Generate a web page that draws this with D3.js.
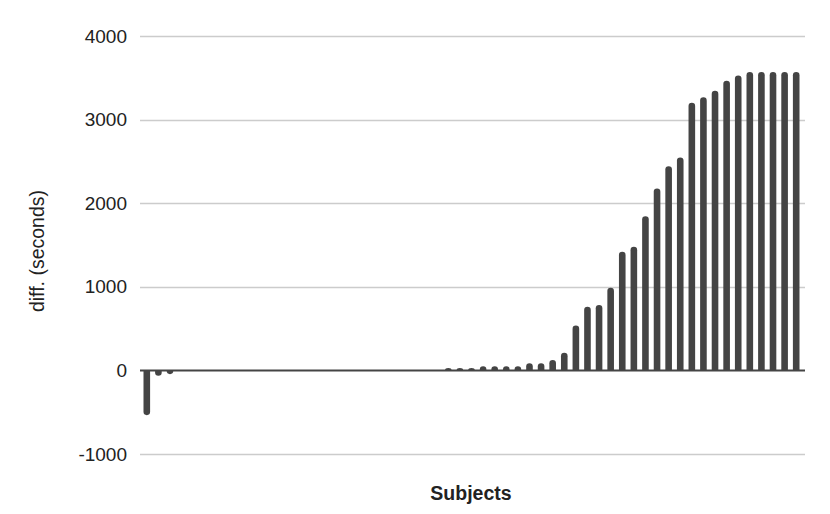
<!DOCTYPE html>
<html><head><meta charset="utf-8">
<script src="https://cdn.jsdelivr.net/npm/d3@7"></script>
<style>body{margin:0;background:#fff;}svg{display:block;font-family:"Liberation Sans",Arial,sans-serif;}</style>
</head><body>
<svg id="c" width="830" height="514"></svg>
<script>
const subjects = d3.range(1, 58).map(i => "S" + i);
const diffSeconds = [
  -535, -65, -45, 0, 0, 0, 0, 0, 0, 0,
  0, 0, 0, 0, 0, 0, 0, 0, 0, 0,
  0, 0, 3, 3, 3, 3, 28, 28, 28, 50,
  50, 50, 50, 85, 85, 125, 210, 536, 762, 782,
  988, 1418, 1478, 1844, 2176, 2443, 2547, 3201, 3266, 3345,
  3465, 3529, 3569, 3569, 3569, 3569, 3569
];
const yTicks = [-1000, 0, 1000, 2000, 3000, 4000];
const yTitle = "diff. (seconds)";
const xTitle = "Subjects";

const svg = d3.select("#c");
const plotL = 140, plotR = 805, plotT = 36, plotB = 454;
const x = d3.scaleBand().domain(subjects).range([141, 802]).paddingInner(0.43).paddingOuter(0.215);
const y = d3.scaleLinear().domain([-1000, 4000]).range([plotB, plotT]);

// gridlines
svg.append("g").selectAll("line").data(yTicks.filter(t => t !== 0)).join("line")
  .attr("x1", plotL).attr("x2", plotR)
  .attr("y1", d => Math.round(y(d)) + 0.5).attr("y2", d => Math.round(y(d)) + 0.5)
  .attr("stroke", "#cccccc").attr("stroke-width", 1.3);

// tick labels
svg.append("g").selectAll("text").data(yTicks).join("text")
  .attr("x", 127).attr("y", d => y(d)).attr("dy", "0.35em")
  .attr("text-anchor", "end").attr("font-size", 19).attr("fill", "#222")
  .text(d => d);

// bars with rounded outer end
const bw = x.bandwidth();
function barPath(d, i) {
  const cx = x(subjects[i]) + bw / 2;
  const y0 = y(0), y1 = y(d);
  const h = Math.abs(y0 - y1);
  if (h < 0.3) return "";
  const r = Math.min(bw / 2, h);
  const xl = cx - bw / 2, xr = cx + bw / 2;
  if (d > 0) {
    return `M${xl},${y0} L${xl},${y1 + r} Q${xl},${y1} ${cx},${y1} Q${xr},${y1} ${xr},${y1 + r} L${xr},${y0} Z`;
  } else {
    return `M${xl},${y0} L${xl},${y1 - r} Q${xl},${y1} ${cx},${y1} Q${xr},${y1} ${xr},${y1 - r} L${xr},${y0} Z`;
  }
}
svg.append("g").selectAll("path").data(diffSeconds).join("path")
  .attr("d", barPath).attr("fill", "#444444");

// baseline
svg.append("line").attr("x1", plotL).attr("x2", plotR)
  .attr("y1", y(0)).attr("y2", y(0))
  .attr("stroke", "#444444").attr("stroke-width", 2);

// axis titles
svg.append("text").attr("transform", `translate(44,${(plotT + plotB) / 2 + 6}) rotate(-90)`)
  .attr("text-anchor", "middle").attr("font-size", 19.5).attr("fill", "#222").text(yTitle);
svg.append("text").attr("x", 471).attr("y", 500)
  .attr("text-anchor", "middle").attr("font-size", 19.5).attr("font-weight", "bold").attr("fill", "#222").text(xTitle);
</script>
</body></html>
